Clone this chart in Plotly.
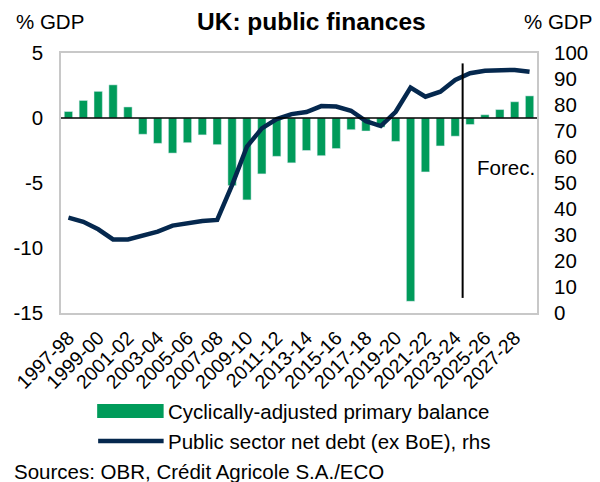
import plotly.graph_objects as go

categories = ["1997-98", "1998-99", "1999-00", "2000-01", "2001-02", "2002-03", "2003-04", "2004-05",
              "2005-06", "2006-07", "2007-08", "2008-09", "2009-10", "2010-11", "2011-12", "2012-13",
              "2013-14", "2014-15", "2015-16", "2016-17", "2017-18", "2018-19", "2019-20", "2020-21",
              "2021-22", "2022-23", "2023-24", "2024-25", "2025-26", "2026-27", "2027-28", "2028-29"]
balance = [0.5, 1.35, 2.05, 2.55, 0.85, -1.25, -1.95, -2.7, -1.9, -1.3, -2.05, -5.2, -6.3, -4.3, -2.95, -3.45,
           -2.5, -2.9, -2.35, -0.9, -1.0, -0.7, -1.8, -14.1, -4.15, -2.15, -1.4, -0.5, 0.25, 0.65, 1.25, 1.7]
debt = [36.7, 35.1, 32.2, 28.3, 28.3, 30.0, 31.3, 33.6, 34.7, 35.4, 35.8, 49.2, 64.0, 71.0, 74.6, 76.5,
        77.3, 79.6, 79.4, 77.8, 73.8, 71.9, 77.4, 86.7, 83.2, 85.1, 89.6, 92.2, 93.2, 93.5, 93.5, 92.8]
tick_labels = categories[::2]
left_ticks = [5, 0, -5, -10, -15]
right_ticks = list(range(0, 101, 10))
forecast_start = "2024-25"

GREEN = "rgb(0,155,90)"
NAVY = "rgb(5,40,78)"
FONT = "Liberation Sans, Arial, sans-serif"
FS = 20.5

fig = go.Figure()
fig.add_trace(go.Bar(x=categories, y=balance, marker_color=GREEN, width=0.56,
                     name="Cyclically-adjusted primary balance", showlegend=False, yaxis="y"))
fig.add_trace(go.Scatter(x=categories, y=debt, mode="lines", line=dict(color=NAVY, width=4.5),
                         name="Public sector net debt (ex BoE), rhs", showlegend=False, yaxis="y2"))

fi = categories.index(forecast_start) - 0.5

fig.update_layout(
    width=600, height=482,
    margin=dict(l=57, r=56, t=53, b=169),
    paper_bgcolor="white", plot_bgcolor="white",
    font=dict(family=FONT, size=FS, color="black"),
    showlegend=False,
    xaxis=dict(type="category", tickmode="array", tickvals=tick_labels, ticktext=tick_labels,
               tickangle=-45, tickfont=dict(size=19.5), showgrid=False, ticks="",
               showline=True, linecolor="#c8c8c8", linewidth=1.5, mirror=True,
               range=[-0.5, len(categories) - 0.5], ticklabelstandoff=4),
    yaxis=dict(range=[-15, 5], tickmode="array", tickvals=left_ticks,
               ticktext=[str(v) for v in left_ticks], showgrid=False, zeroline=False, ticks="",
               showline=True, linecolor="#c8c8c8", linewidth=1.5, mirror=True,
               tickfont=dict(size=FS), ticklabelstandoff=12),
    yaxis2=dict(range=[0, 100], overlaying="y", side="right", tickmode="array", tickvals=right_ticks,
                ticktext=[str(v) for v in right_ticks], showgrid=False, zeroline=False, ticks="",
                showline=False, tickfont=dict(size=FS), ticklabelstandoff=16),
    shapes=[
        dict(type="line", xref="x", yref="y", x0=-0.5, x1=len(categories) - 0.5, y0=0, y1=0,
             line=dict(color="black", width=1.5), layer="above"),
        dict(type="line", xref="x", yref="paper", x0=fi, x1=fi, y0=0.058, y1=0.96,
             line=dict(color="black", width=2), layer="above"),
    ],
)

# pixel -> paper coordinate helpers (plot area: x 57..544, y 53..313)
def px(xp):
    return (xp - 57) / 487

def py(yp):
    return (313 - yp) / 260

# Title & axis unit labels
fig.add_annotation(text="<b>UK: public finances</b>", xref="paper", yref="paper", x=px(313), y=py(22),
                   showarrow=False, font=dict(size=24.5), xanchor="center", yanchor="middle")
fig.add_annotation(text="% GDP", xref="paper", yref="paper", x=px(9), y=py(21),
                   showarrow=False, font=dict(size=FS), xanchor="left", yanchor="middle")
fig.add_annotation(text="% GDP", xref="paper", yref="paper", x=px(602), y=py(21),
                   showarrow=False, font=dict(size=FS), xanchor="right", yanchor="middle")
fig.add_annotation(text="Forec.", xref="x", yref="paper", x=fi, xshift=12, y=py(167),
                   showarrow=False, font=dict(size=FS), xanchor="left", yanchor="middle")

# Custom legend
fig.add_shape(type="rect", xref="paper", yref="paper", x0=px(94), x1=px(162), y0=py(418), y1=py(404),
              fillcolor=GREEN, line=dict(width=0))
fig.add_shape(type="line", xref="paper", yref="paper", x0=px(95), x1=px(162), y0=py(441), y1=py(441),
              line=dict(color=NAVY, width=4.5))
fig.add_annotation(text="Cyclically-adjusted primary balance", xref="paper", yref="paper",
                   x=px(164), y=py(411), showarrow=False, xanchor="left", yanchor="middle",
                   font=dict(size=FS))
fig.add_annotation(text="Public sector net debt (ex BoE), rhs", xref="paper", yref="paper",
                   x=px(164), y=py(441), showarrow=False, xanchor="left", yanchor="middle",
                   font=dict(size=FS))
fig.add_annotation(text="Sources: OBR, Crédit Agricole S.A./ECO", xref="paper", yref="paper",
                   x=px(7), y=py(471), showarrow=False, xanchor="left", yanchor="middle",
                   font=dict(size=FS))

fig.write_html("out.html")
